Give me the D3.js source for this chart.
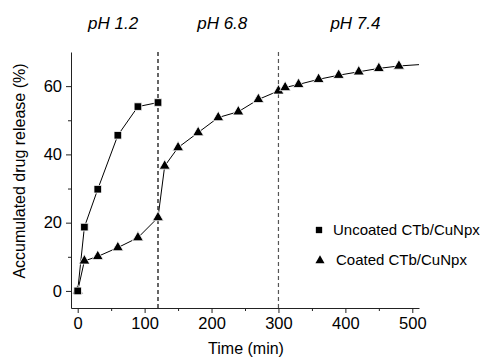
<!DOCTYPE html>
<html lang="en">
<head>
<meta charset="UTF-8">
<title>Drug release</title>
<script src="https://d3js.org/d3.v7.min.js"></script>
<style>
  body { margin: 0; background: #fff; }
  text { font-family: "Liberation Sans", Arial, sans-serif; fill: #000; }
</style>
</head>
<body>
<div id="chart"></div>
<script>
// data
const uncoatedTime = [0, 10, 30, 60, 90, 120];
const uncoatedRelease = [0, 18.7, 29.8, 45.6, 54.0, 55.2];

const coatedTime = [0, 10, 30, 60, 90, 120, 130, 150, 180, 210, 240, 270, 300, 310, 330, 360, 390, 420, 450, 480];
const coatedRelease = [0, 8.8, 10.1, 12.7, 15.6, 21.5, 36.6, 42.0, 46.4, 50.8, 52.5, 56.1, 58.6, 59.6, 60.5, 62.0, 63.2, 64.2, 65.2, 65.9];
// fitted curve continues past the last sample
const coatedTailTime = [480, 510];
const coatedTailRelease = [65.9, 66.3];

const phBoundaries = [120, 300];
const phLabels = ["pH 1.2", "pH 6.8", "pH 7.4"];
const phLabelTimes = [53, 216, 415];

const xTicks = [0, 100, 200, 300, 400, 500];
const yTicks = [0, 20, 40, 60];

const width = 484, height = 358;
const margin = { top: 52, right: 65, bottom: 50, left: 71 };

const svg = d3.select("#chart").append("svg")
  .attr("width", width)
  .attr("height", height);

const x = d3.scaleLinear().domain([-10, 510]).range([margin.left, width - margin.right]);
const y = d3.scaleLinear().domain([-5, 70]).range([height - margin.bottom, margin.top]);

// dashed pH boundaries
svg.selectAll(".ph-line")
  .data(phBoundaries)
  .enter()
  .append("line")
  .attr("x1", d => x(d)).attr("x2", d => x(d))
  .attr("y1", y(70)).attr("y2", y(-5))
  .attr("stroke", (d, i) => i === 0 ? "#000" : "#555")
  .attr("stroke-width", 1.2)
  .attr("stroke-dasharray", "4,3");

// pH labels
svg.selectAll(".ph-label")
  .data(phLabels)
  .enter()
  .append("text")
  .attr("x", (d, i) => x(phLabelTimes[i]))
  .attr("y", 29)
  .attr("text-anchor", "middle")
  .attr("font-style", "italic")
  .attr("font-size", 17)
  .text(d => d);

// axes
svg.append("g")
  .attr("transform", `translate(0,${y(-5)})`)
  .call(d3.axisBottom(x).tickValues(xTicks).tickSize(5).tickSizeOuter(0).tickPadding(4));
svg.append("g")
  .attr("transform", `translate(0,${y(-5)})`)
  .call(d3.axisBottom(x).tickValues(d3.range(50, 501, 100)).tickSize(3).tickFormat("").tickSizeOuter(0))
  .select(".domain").remove();

svg.append("g")
  .attr("transform", `translate(${x(-10)},0)`)
  .call(d3.axisLeft(y).tickValues(yTicks).tickSize(5).tickSizeOuter(0).tickPadding(4));
svg.append("g")
  .attr("transform", `translate(${x(-10)},0)`)
  .call(d3.axisLeft(y).tickValues([10, 30, 50]).tickSize(3).tickFormat("").tickSizeOuter(0))
  .select(".domain").remove();

svg.selectAll(".tick text").attr("font-size", 16.5).style("font-family", "'Liberation Sans', Arial, sans-serif");
svg.selectAll(".domain, .tick line").attr("stroke", "#222");

// axis titles
svg.append("text")
  .attr("x", 246).attr("y", 354)
  .attr("text-anchor", "middle")
  .attr("font-size", 16)
  .text("Time (min)");

svg.append("text")
  .attr("transform", `translate(25,171) rotate(-90)`)
  .attr("text-anchor", "middle")
  .attr("font-size", 16)
  .text("Accumulated drug release (%)");

// lines
const line = d3.line().x(d => x(d[0])).y(d => y(d[1]));
const uncoated = uncoatedTime.map((t, i) => [t, uncoatedRelease[i]]);
const coated = coatedTime.map((t, i) => [t, coatedRelease[i]]);
const coatedTail = coatedTailTime.map((t, i) => [t, coatedTailRelease[i]]);

[uncoated, coated, coatedTail].forEach(series => {
  svg.append("path")
    .datum(series)
    .attr("d", line)
    .attr("fill", "none")
    .attr("stroke", "#000")
    .attr("stroke-width", 1);
});

// markers
const square = d3.symbol().type(d3.symbolSquare).size(58);
const triangle = d3.symbol().type(d3.symbolTriangle).size(52);

svg.selectAll(".tri")
  .data(coated)
  .enter()
  .append("path")
  .attr("d", triangle)
  .attr("transform", d => `translate(${x(d[0])},${y(d[1])})`)
  .attr("fill", "#000")
  .attr("stroke", "#fff")
  .attr("stroke-width", 0.8);

svg.selectAll(".sq")
  .data(uncoated)
  .enter()
  .append("path")
  .attr("d", square)
  .attr("transform", d => `translate(${x(d[0])},${y(d[1])})`)
  .attr("fill", "#000")
  .attr("stroke", "#fff")
  .attr("stroke-width", 0.8);

// legend
const legend = svg.append("g");
legend.append("path")
  .attr("d", d3.symbol().type(d3.symbolSquare).size(40))
  .attr("transform", "translate(319,230)")
  .attr("fill", "#000");
legend.append("text")
  .attr("x", 333).attr("y", 235)
  .attr("font-size", 15)
  .text("Uncoated CTb/CuNpx");
legend.append("path")
  .attr("d", d3.symbol().type(d3.symbolTriangle).size(36))
  .attr("transform", "translate(320,260.5)")
  .attr("fill", "#000");
legend.append("text")
  .attr("x", 336).attr("y", 265)
  .attr("font-size", 15)
  .text("Coated CTb/CuNpx");
</script>
</body>
</html>
